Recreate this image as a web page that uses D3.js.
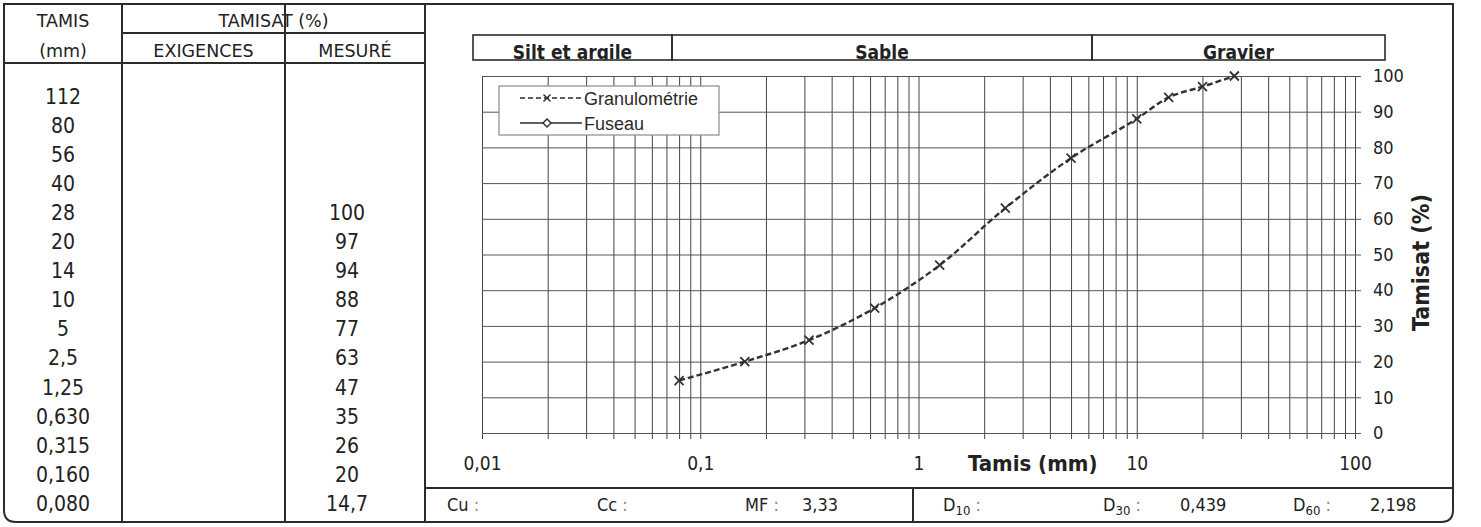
<!DOCTYPE html>
<html>
<head>
<meta charset="utf-8">
<script src="https://cdn.jsdelivr.net/npm/d3@7"></script>
<style>
  body { margin: 0; background: #fff; }
  svg { display: block; }
  .tah { font-family: "DejaVu Sans Condensed", "DejaVu Sans", sans-serif; font-stretch: condensed; fill: #222; }
  .hdr { font-family: "DejaVu Sans", sans-serif; fill: #222; }
</style>
</head>
<body>
<svg id="chart" width="1481" height="527"></svg>
<script>
// Table data (left)
const tableSieves = ["112", "80", "56", "40", "28", "20", "14", "10", "5", "2,5", "1,25", "0,630", "0,315", "0,160", "0,080"];
const tableRequired = ["", "", "", "", "", "", "", "", "", "", "", "", "", "", ""];
const tableMeasured = ["", "", "", "", "100", "97", "94", "88", "77", "63", "47", "35", "26", "20", "14,7"];

// Curve data
const sieveSizes = [0.08, 0.16, 0.315, 0.63, 1.25, 2.5, 5, 10, 14, 20, 28];
const passing = [14.7, 20, 26, 35, 47, 63, 77, 88, 94, 97, 100];
const fuseauSizes = [];
const fuseauValues = [];

// Axes
const xTickValues = [0.01, 0.1, 1, 10, 100];
const xTickLabels = ["0,01", "0,1", "1", "10", "100"];
const yTickValues = [0, 10, 20, 30, 40, 50, 60, 70, 80, 90, 100];

// Zones and summary
const zoneNames = ["Silt et argile", "Sable", "Gravier"];
const legendNames = ["Granulométrie", "Fuseau"];
const summaryLabels = ["Cu", "Cc", "MF", "D10", "D30", "D60"];
const summaryValues = ["", "", "3,33", "", "0,439", "2,198"];

// Layout
const frame = { left: 4, top: 4, right: 1453, bottom: 522, r: 12 };
const colX = [4, 122, 285, 425];
const plot = { left: 482, right: 1355, top: 76, bottom: 433 };
const zoneEdges = [473, 672, 1092, 1385];
const zoneTop = 35, zoneBottom = 60;
const infoTop = 488, infoSplit = 913;
const summaryLabelX = [447, 597, 745, 943, 1103, 1293];
const summaryValueX = [0, 0, 802, 0, 1180, 1370];

const svg = d3.select("#chart");
const ink = "#2b2b2b";

const x = d3.scaleLog().domain([0.01, 100]).range([plot.left, plot.right]);
const y = d3.scaleLinear().domain([0, 100]).range([plot.bottom, plot.top]);

// Grid + axes
const gx = svg.append("g")
  .attr("transform", `translate(0,${plot.bottom + 6})`)
  .call(d3.axisBottom(x)
    .tickValues(x.ticks())
    .tickSizeInner(-(plot.bottom + 6 - plot.top))
    .tickSizeOuter(0)
    .tickPadding(18)
    .tickFormat(d => {
      const i = xTickValues.findIndex(v => Math.abs(v - d) < 1e-9);
      return i >= 0 ? xTickLabels[i] : "";
    }));
gx.select(".domain").remove();
gx.selectAll("line").attr("stroke", "#444").attr("stroke-width", 1);
gx.selectAll("text").attr("class", "tah").style("font-size", "19px").attr("fill", ink);

const gy = svg.append("g")
  .attr("transform", `translate(${plot.right + 6},0)`)
  .call(d3.axisRight(y)
    .tickValues(yTickValues)
    .tickSizeInner(-(plot.right + 6 - plot.left))
    .tickSizeOuter(0)
    .tickPadding(12));
gy.select(".domain").remove();
gy.selectAll("line").attr("stroke", "#555").attr("stroke-width", 1);
gy.selectAll("text").attr("class", "tah").style("font-size", "18px").attr("fill", ink);

// Axis titles
svg.append("text")
  .attr("class", "tah")
  .attr("x", 968).attr("y", 471)
  .style("font-size", "22px").style("font-weight", "bold")
  .text("Tamis (mm)");

svg.append("text")
  .attr("class", "tah")
  .attr("transform", `translate(1429,${(plot.top + plot.bottom) / 2 + 8}) rotate(-90)`)
  .attr("text-anchor", "middle")
  .style("font-size", "23px").style("font-weight", "bold")
  .text("Tamisat (%)");

// Zone header boxes
svg.append("clipPath").attr("id", "zoneclip")
  .append("rect").attr("x", zoneEdges[0]).attr("y", zoneTop)
  .attr("width", zoneEdges[3] - zoneEdges[0]).attr("height", zoneBottom - zoneTop);

const zones = svg.append("g");
zones.append("g").attr("clip-path", "url(#zoneclip)")
  .selectAll("text").data(zoneNames).join("text")
  .attr("class", "tah")
  .attr("x", (d, i) => (zoneEdges[i] + zoneEdges[i + 1]) / 2)
  .attr("y", 59)
  .attr("text-anchor", "middle")
  .style("font-size", "19px").style("font-weight", "bold")
  .text(d => d);
zones.selectAll("rect").data(zoneNames).join("rect")
  .attr("x", (d, i) => zoneEdges[i])
  .attr("y", zoneTop)
  .attr("width", (d, i) => zoneEdges[i + 1] - zoneEdges[i])
  .attr("height", zoneBottom - zoneTop)
  .attr("fill", "none").attr("stroke", ink).attr("stroke-width", 1.6);

// Granulometry curve
const pts = sieveSizes.map((s, i) => ({ size: s, pass: passing[i] }));
const line = d3.line()
  .x(d => x(d.size))
  .y(d => y(d.pass))
  .curve(d3.curveMonotoneX);

svg.append("path")
  .datum(pts)
  .attr("d", line)
  .attr("fill", "none")
  .attr("stroke", "#333")
  .attr("stroke-width", 2.4)
  .attr("stroke-dasharray", "6,3");

const cross = "M-4.5,-4.5L4.5,4.5M-4.5,4.5L4.5,-4.5";
svg.append("g").selectAll("path").data(pts).join("path")
  .attr("transform", d => `translate(${x(d.size)},${y(d.pass)})`)
  .attr("d", cross)
  .attr("stroke", "#333").attr("stroke-width", 1.8).attr("fill", "none");

// Fuseau (empty)
const fus = fuseauSizes.map((s, i) => ({ size: s, pass: fuseauValues[i] }));
svg.append("path").datum(fus).attr("d", line).attr("fill", "none").attr("stroke", ink);

// Legend
const lg = svg.append("g").attr("transform", "translate(499,86)");
lg.append("rect").attr("width", 220).attr("height", 49)
  .attr("fill", "#fff").attr("stroke", "#8a8a8a").attr("stroke-width", 1.2);
const items = lg.selectAll("g").data(legendNames).join("g")
  .attr("transform", (d, i) => `translate(0,${12 + i * 25})`);
items.append("line")
  .attr("x1", 21).attr("x2", 83)
  .attr("stroke", ink).attr("stroke-width", 1.6)
  .attr("stroke-dasharray", (d, i) => i === 0 ? "5,3" : null);
items.filter((d, i) => i === 0).append("path")
  .attr("transform", "translate(48,0)")
  .attr("d", "M-3.5,-3.5L3.5,3.5M-3.5,3.5L3.5,-3.5")
  .attr("stroke", ink).attr("stroke-width", 1.4);
items.filter((d, i) => i === 1).append("path")
  .attr("transform", "translate(48,0)")
  .attr("d", "M0,-4L4,0L0,4L-4,0Z")
  .attr("stroke", ink).attr("stroke-width", 1.4).attr("fill", "#fff");
items.append("text")
  .attr("x", 85).attr("y", 6.5)
  .style("font-family", "'Liberation Sans', Arial, sans-serif")
  .style("font-size", "18px").attr("fill", ink)
  .text(d => d);

// Left table text
const rowY0 = 96, rowStep = 29.1;
svg.append("g").selectAll("text").data(tableSieves).join("text")
  .attr("class", "tah")
  .attr("x", (colX[0] + colX[1]) / 2)
  .attr("y", (d, i) => rowY0 + i * rowStep + 7.5)
  .attr("text-anchor", "middle")
  .style("font-size", "21px")
  .text(d => d);
svg.append("g").selectAll("text").data(tableRequired).join("text")
  .attr("class", "tah")
  .attr("x", (colX[1] + colX[2]) / 2)
  .attr("y", (d, i) => rowY0 + i * rowStep + 7.5)
  .attr("text-anchor", "middle")
  .style("font-size", "21px")
  .text(d => d);
svg.append("g").selectAll("text").data(tableMeasured).join("text")
  .attr("class", "tah")
  .attr("x", 347)
  .attr("y", (d, i) => rowY0 + i * rowStep + 7.5)
  .attr("text-anchor", "middle")
  .style("font-size", "21px")
  .text(d => d);

// Table header
const hdr = [
  { t: "TAMIS", x: (colX[0] + colX[1]) / 2, y: 27 },
  { t: "(mm)", x: (colX[0] + colX[1]) / 2, y: 57 },
  { t: "TAMISAT (%)", x: (colX[1] + colX[3]) / 2, y: 27 },
  { t: "EXIGENCES", x: (colX[1] + colX[2]) / 2, y: 57 },
  { t: "MESURÉ", x: (colX[2] + colX[3]) / 2, y: 57 }
];
svg.append("g").selectAll("text").data(hdr).join("text")
  .attr("class", "hdr")
  .attr("x", d => d.x).attr("y", d => d.y)
  .attr("text-anchor", "middle")
  .style("font-size", "17.5px")
  .text(d => d.t);

// Summary row
const sg = svg.append("g");
summaryLabels.forEach((lab, i) => {
  const t = sg.append("text").attr("class", "tah")
    .attr("x", summaryLabelX[i]).attr("y", 511)
    .style("font-size", "18px");
  if (lab.startsWith("D")) {
    t.append("tspan").text("D");
    t.append("tspan").attr("dy", 4).style("font-size", "13px").text(lab.slice(1));
    t.append("tspan").attr("dy", -4).text(" ");
  } else {
    t.append("tspan").text(lab + " ");
  }
  t.append("tspan").attr("fill", "#888").text(":");
  if (summaryValues[i]) {
    sg.append("text").attr("class", "tah")
      .attr("x", summaryValueX[i]).attr("y", 511)
      .style("font-size", "18px")
      .text(summaryValues[i]);
  }
});

// Frame and table lines
const f = frame;
const bl = svg.append("g").attr("fill", "none").attr("stroke", ink).attr("stroke-width", 2);
bl.append("path").attr("d",
  `M${f.left},${f.top}H${f.right}V${f.bottom - f.r}Q${f.right},${f.bottom} ${f.right - f.r},${f.bottom}` +
  `H${f.left + f.r}Q${f.left},${f.bottom} ${f.left},${f.bottom - f.r}Z`);
colX.slice(1).forEach(cx => bl.append("line").attr("x1", cx).attr("x2", cx).attr("y1", f.top).attr("y2", f.bottom));
bl.append("line").attr("x1", colX[1]).attr("x2", colX[3]).attr("y1", 33).attr("y2", 33);
bl.append("line").attr("x1", f.left).attr("x2", colX[3]).attr("y1", 63).attr("y2", 63);
bl.append("line").attr("x1", colX[3]).attr("x2", f.right).attr("y1", infoTop).attr("y2", infoTop);
bl.append("line").attr("x1", infoSplit).attr("x2", infoSplit).attr("y1", infoTop).attr("y2", f.bottom);
</script>
</body>
</html>
